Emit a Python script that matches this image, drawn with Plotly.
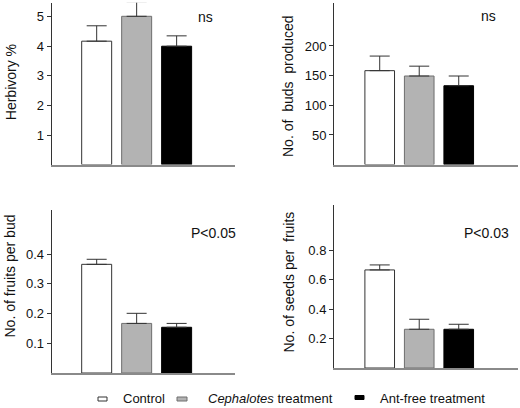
import plotly.graph_objects as go

W, H = 520, 408

treatments = ["Control", "<i>Cephalotes</i> treatment", "Ant-free treatment"]
fills = ["#ffffff", "#b3b3b3", "#000000"]
outlines = ["#333333", "#6e6e6e", "#000000"]

herbivory = [4.17, 5.01, 4.00]
herbivory_se = [0.52, 0.49, 0.35]
buds = [158.4, 149.4, 133.0]
buds_se = [24.6, 16.6, 16.4]
fruits_per_bud = [0.366, 0.167, 0.154]
fruits_per_bud_se = [0.017, 0.034, 0.013]
seeds_per_fruit = [0.666, 0.263, 0.263]
seeds_per_fruit_se = [0.034, 0.068, 0.034]

panel_titles = ["Herbivory %", "No. of&nbsp; buds&nbsp; produced",
                "No. of fruits per bud", "No. of seeds per&nbsp; fruits"]
panel_stats = ["ns", "ns", "P<0.05", "P<0.03"]
panel_ticks = [[1, 2, 3, 4, 5], [50, 100, 150, 200],
               [0.1, 0.2, 0.3, 0.4], [0.2, 0.4, 0.6, 0.8]]
panel_ticktext = [["1", "2", "3", "4", "5"], ["50", "100", "150", "200"],
                  ["0.1", "0.2", "0.3", "0.4"], ["0.2", "0.4", "0.6", "0.8"]]
panel_values = [herbivory, buds, fruits_per_bud, seeds_per_fruit]
panel_errors = [herbivory_se, buds_se, fruits_per_bud_se, seeds_per_fruit_se]

# layout geometry in pixels: (x0, x1, ybottom, ytop, ymax, xrange)
geom = [
    (51.7, 235, 164.6, 2.7, 5.47, [-1.125, 3.46]),
    (334, 518, 164.6, 2.7, 273, [-1.157, 3.5]),
    (51.7, 235, 373, 210, 0.549, [-1.125, 3.46]),
    (334, 518, 368, 205, 1.107, [-1.157, 3.5]),
]
stat_pos = [(205, 16.7), (488, 16), (213, 233), (486, 233)]
title_pos = [(11.7, 82.5), (288, 86), (9.5, 276), (288, 282.5)]

FONT = "Arial, Liberation Sans, sans-serif"
fig = go.Figure()
layout = dict(width=W, height=H, margin=dict(l=0, r=0, t=0, b=0),
              paper_bgcolor="white", plot_bgcolor="white", showlegend=False,
              font=dict(family=FONT, color="#111111"))
annotations = []
shapes = []

for i in range(4):
    x0, x1, yb, yt, ymax, xr = geom[i]
    xa = "x" if i == 0 else f"x{i+1}"
    ya = "y" if i == 0 else f"y{i+1}"
    for j in range(3):
        fig.add_trace(go.Bar(
            x=[j], y=[panel_values[i][j]], width=0.75,
            marker=dict(color=fills[j], line=dict(color=outlines[j], width=1)),
            error_y=dict(type="data", array=[panel_errors[i][j]], arrayminus=[0],
                         symmetric=False, color="#333333", thickness=1, width=10),
            xaxis=xa, yaxis=ya, name=treatments[j]))
    xkey = "xaxis" if i == 0 else f"xaxis{i+1}"
    ykey = "yaxis" if i == 0 else f"yaxis{i+1}"
    layout[xkey] = dict(domain=[x0 / W, x1 / W], range=xr, showticklabels=False,
                        ticks="", showgrid=False, zeroline=False, showline=True,
                        linecolor="#8a8a8a", linewidth=2, anchor=ya, fixedrange=True)
    layout[ykey] = dict(domain=[1 - yb / H, 1 - yt / H], range=[0, ymax],
                        tickvals=panel_ticks[i], ticktext=panel_ticktext[i],
                        ticks="outside", ticklen=4, tickcolor="#333333",
                        tickfont=dict(size=13, family=FONT, color="#111111"),
                        showgrid=False, zeroline=False, showline=True,
                        linecolor="#333333", linewidth=1, anchor=xa)
    sx, sy = stat_pos[i]
    annotations.append(dict(text=panel_stats[i], x=sx / W, y=1 - sy / H,
                            xref="paper", yref="paper", showarrow=False,
                            xanchor="center", yanchor="middle",
                            font=dict(size=14, family=FONT, color="#111111")))
    tx, ty = title_pos[i]
    annotations.append(dict(text=panel_titles[i], x=tx / W, y=1 - ty / H,
                            xref="paper", yref="paper", showarrow=False,
                            textangle=-90, xanchor="center", yanchor="middle",
                            font=dict(size=14, family=FONT, color="#111111")))

# legend (manual)
legend_boxes = [(98, 107, 397, 401), (177, 187, 397, 401), (355, 364, 395.5, 399.5)]
legend_text_x = [120.7, 206, 377.7]
for j in range(3):
    bx0, bx1, by0, by1 = legend_boxes[j]
    shapes.append(dict(type="rect", xref="paper", yref="paper",
                       x0=bx0 / W, x1=bx1 / W, y0=1 - by1 / H, y1=1 - by0 / H,
                       fillcolor=fills[j], line=dict(color=outlines[j], width=1)))
    annotations.append(dict(text=treatments[j], x=legend_text_x[j] / W, y=1 - 398 / H,
                            xref="paper", yref="paper", showarrow=False,
                            xanchor="left", yanchor="middle",
                            font=dict(size=13, family=FONT, color="#111111")))

layout["annotations"] = annotations
layout["shapes"] = shapes
fig.update_layout(**layout)
fig.write_html("out.html", config={"displayModeBar": False},
               post_script="document.body.style.margin='0';document.body.style.overflow='hidden';")
